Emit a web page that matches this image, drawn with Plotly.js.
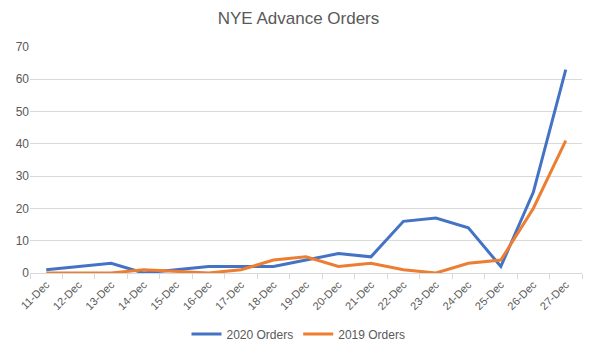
<!DOCTYPE html>
<html><head><meta charset="utf-8">
<script src="https://cdn.plot.ly/plotly-3.0.1.min.js"></script>
<style>html,body{margin:0;padding:0;background:#fff}#chart{width:597px;height:353px}</style>
</head><body><div id="chart"></div>
<script>
const dates = ["11-Dec","12-Dec","13-Dec","14-Dec","15-Dec","16-Dec","17-Dec","18-Dec","19-Dec","20-Dec","21-Dec","22-Dec","23-Dec","24-Dec","25-Dec","26-Dec","27-Dec"];
const orders2020 = [1,2,3,0,1,2,2,2,4,6,5,16,17,14,2,25,63];
const orders2019 = [0,0,0,1,0.5,0,1,4,5,2,3,1,0,3,4,20,41];

const traces = [
  {x: dates, y: orders2020, type: "scatter", mode: "lines", name: "2020 Orders",
   line: {color: "#4472C4", width: 3}},
  {x: dates, y: orders2019, type: "scatter", mode: "lines", name: "2019 Orders",
   line: {color: "#ED7D31", width: 3}}
];
const layout = {
  width: 597, height: 353,
  margin: {l: 30, r: 15, t: 47, b: 80},
  paper_bgcolor: "#fff", plot_bgcolor: "#fff",
  font: {family: "Liberation Sans, Arial, sans-serif", color: "#595959", size: 11},
  title: {text: "NYE Advance Orders", x: 0.5, xanchor: "center", y: 0.95, yanchor: "middle",
          font: {size: 17, color: "#595959"}},
  xaxis: {type: "category", range: [-0.5, 16.5], tickangle: -45, ticks: "outside",
          tickson: "boundaries", ticklen: 5, tickcolor: "#d9d9d9", showline: true,
          linecolor: "#d9d9d9", linewidth: 1, showgrid: false, fixedrange: true, automargin: false,
          tickfont: {size: 11, color: "#595959"}},
  yaxis: {range: [0, 70], dtick: 10, showgrid: true, gridcolor: "#d9d9d9", gridwidth: 1,
          zeroline: false, showline: false, ticks: "", fixedrange: true, automargin: false,
          tickfont: {size: 12, color: "#595959"}},
  showlegend: true,
  legend: {orientation: "h", x: 0.5, xanchor: "center", xref: "container",
           y: 0.054, yanchor: "middle", yref: "container",
           font: {size: 12, color: "#595959"}}
};
Plotly.newPlot("chart", traces, layout, {displayModeBar: false, staticPlot: true});
</script></body></html>
